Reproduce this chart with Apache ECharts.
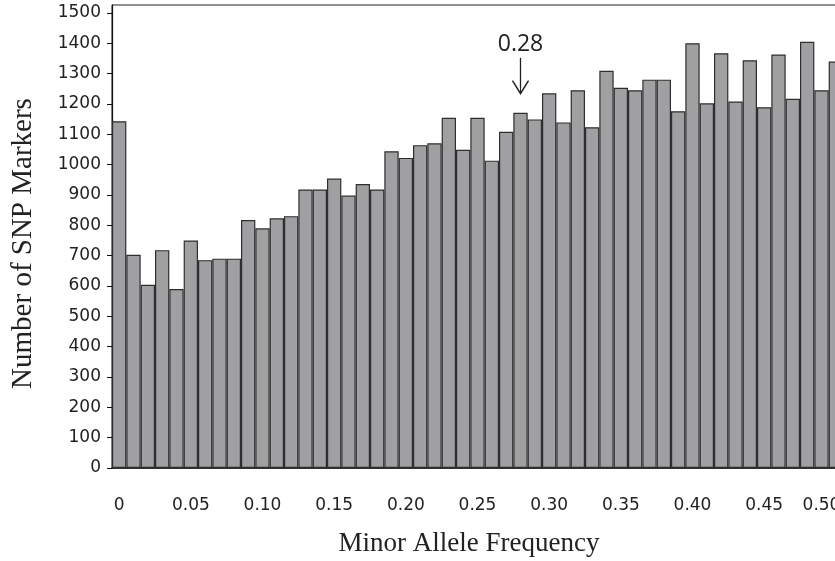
<!DOCTYPE html>
<html>
<head>
<meta charset="utf-8">
<script src="https://cdn.jsdelivr.net/npm/echarts@6/dist/echarts.min.js"></script>
<style>
  html, body { margin: 0; padding: 0; background: #fff; }
  #chart { width: 835px; height: 561px; }
</style>
</head>
<body>
<div id="chart"></div>
<script>
// bins of minor allele frequency, 0.01 wide
var categories = ['0.00', '0.01', '0.02', '0.03', '0.04', '0.05', '0.06', '0.07', '0.08', '0.09',
  '0.10', '0.11', '0.12', '0.13', '0.14', '0.15', '0.16', '0.17', '0.18', '0.19',
  '0.20', '0.21', '0.22', '0.23', '0.24', '0.25', '0.26', '0.27', '0.28', '0.29',
  '0.30', '0.31', '0.32', '0.33', '0.34', '0.35', '0.36', '0.37', '0.38', '0.39',
  '0.40', '0.41', '0.42', '0.43', '0.44', '0.45', '0.46', '0.47', '0.48', '0.49', '0.50'];
var snpCounts = [1143, 703, 604, 718, 590, 750, 685, 690, 690, 817,
  790, 823, 830, 918, 918, 954, 898, 936, 918, 1044,
  1022, 1064, 1070, 1154, 1049, 1154, 1013, 1108, 1171, 1149,
  1235, 1139, 1245, 1123, 1309, 1253, 1245, 1280, 1280, 1176,
  1400, 1202, 1367, 1208, 1344, 1189, 1363, 1217, 1405, 1245, 1340];
var xTickIndex = [0, 5, 10, 15, 20, 25, 30, 35, 40, 45, 49];
var xTickText = ['0', '0.05', '0.10', '0.15', '0.20', '0.25', '0.30', '0.35', '0.40', '0.45', '0.50'];
var yTicks = [0, 100, 200, 300, 400, 500, 600, 700, 800, 900, 1000, 1100, 1200, 1300, 1400, 1500];
var yMax = 1526;
// arrow pointing at the 0.28 bin
var markIndex = 28;
var markText = '0.28';
var markFrom = 1352;
var markTo = 1254;

var myChart = echarts.init(document.getElementById('chart'));
var option = {
  animation: false,
  backgroundColor: '#fff',
  grid: {
    left: 112,
    top: 5,
    width: 731,
    height: 463,
    outerBoundsMode: 'none',
    show: true,
    borderColor: '#222',
    borderWidth: 1
  },
  xAxis: {
    type: 'category',
    data: categories,
    name: 'Minor Allele Frequency',
    nameLocation: 'middle',
    nameGap: 62,
    nameTextStyle: {
      fontFamily: 'Liberation Serif',
      fontSize: 27,
      color: '#222',
      padding: [0, 17, 0, 0]
    },
    axisLine: { lineStyle: { color: '#111', width: 1.5 } },
    axisTick: { show: false },
    axisLabel: {
      interval: function (index) {
        return xTickIndex.indexOf(index) > -1;
      },
      formatter: function (value, index) {
        return xTickText[xTickIndex.indexOf(index)];
      },
      margin: 29,
      fontFamily: 'DejaVu Sans',
      fontSize: 17,
      color: '#222'
    }
  },
  yAxis: {
    type: 'value',
    min: 0,
    max: yMax,
    name: 'Number of SNP Markers',
    nameLocation: 'middle',
    nameGap: 74,
    nameTextStyle: {
      fontFamily: 'Liberation Serif',
      fontSize: 29,
      color: '#222',
      padding: [0, 14, 0, 0]
    },
    axisLine: { show: true, lineStyle: { color: '#111', width: 1.2 } },
    axisTick: { show: true, length: 5, customValues: yTicks, lineStyle: { color: '#111' } },
    axisLabel: {
      customValues: yTicks,
      formatter: function (v) { return String(v); },
      margin: 11,
      fontFamily: 'DejaVu Sans',
      fontSize: 17,
      color: '#222'
    },
    splitLine: { show: false }
  },
  series: [
    {
      type: 'bar',
      data: snpCounts,
      barCategoryGap: '0%',
      itemStyle: {
        color: '#a0a0a3',
        borderColor: '#2e2e2e',
        borderWidth: 1.2
      },
      markLine: {
        silent: true,
        symbol: ['none', 'path://M0 0 L10 12 L8.9 13 L0.6 3.2 L0.6 13 L-0.6 13 L-0.6 3.2 L-8.9 13 L-10 12 Z'],
        symbolSize: [17, 15],
        lineStyle: { color: '#222', width: 1.3, type: 'solid' },
        label: {
          show: true,
          position: 'start',
          formatter: markText,
          distance: 2,
          fontFamily: 'Open Sans',
          fontSize: 23,
          color: '#222'
        },
        data: [
          [{ coord: [markIndex, markFrom] }, { coord: [markIndex, markTo] }]
        ]
      }
    }
  ]
};
myChart.setOption(option);
</script>
</body>
</html>
